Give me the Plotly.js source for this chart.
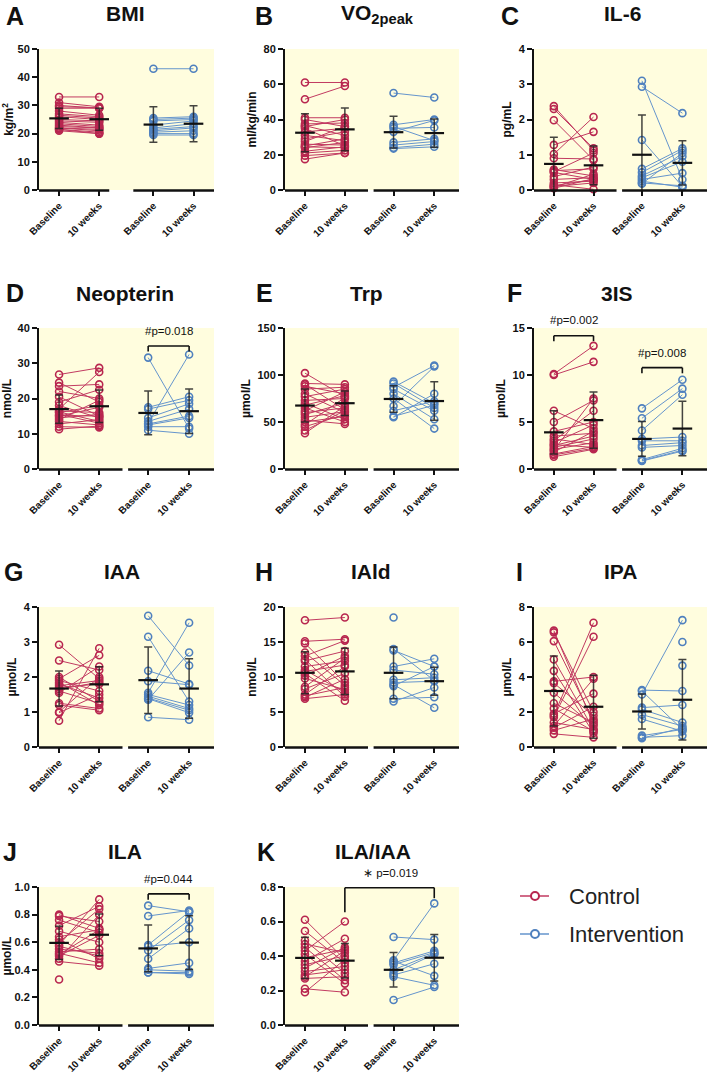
<!DOCTYPE html>
<html>
<head>
<meta charset="utf-8">
<script src="https://cdn.plot.ly/plotly-3.0.1.min.js"></script>
<style>
  html, body { margin: 0; padding: 0; background: #ffffff; }
  #chart { width: 709px; height: 1075px; }
</style>
</head>
<body>
<div id="chart"></div>
<script>
// ---------------- data: paired values per subject (baseline, 10 weeks) ----------------
// Group means and SDs per panel, order: control baseline, control 10 wk, intervention baseline, intervention 10 wk
const groupLabels = ['Control', 'Intervention'];
const timeLabels = ['Baseline', '10 weeks'];

// A: BMI
const bmiCtrlBase = [33, 31, 30, 29.5, 29, 28, 27, 26.5, 26, 25, 24.5, 24, 23.5, 23, 22.5, 22, 22, 21.5, 21, 21.5];
const bmiCtrl10   = [33, 29.5, 29, 29.2, 29, 26.5, 26, 25.5, 25, 24.5, 24, 23, 22.5, 22, 22, 21, 21.5, 20.5, 20, 20];
const bmiIntBase  = [43, 25.5, 25, 24.5, 23, 22, 21.5, 21, 20.5, 20, 19.5];
const bmiInt10    = [43, 26, 25.5, 25, 24.5, 23.5, 22.5, 22, 21, 20, 19.5];
const bmiMean = [25.4, 25.1, 23.2, 23.5];
const bmiSD   = [3.6, 3.9, 6.3, 6.4];

// B: VO2peak
const vo2CtrlBase = [61, 51.5, 41, 40, 37.5, 36.5, 36, 35, 33, 31, 29, 27.5, 26, 25, 24.5, 24, 22, 21, 19.5, 17.5];
const vo2Ctrl10   = [61, 59, 41, 36, 38, 31, 40, 25, 35, 28, 33, 36, 25.5, 29, 24, 27, 24.5, 22.5, 21, 21];
const vo2IntBase  = [55, 37, 36, 35, 33, 27, 25.5, 24, 23.5];
const vo2Int10    = [52.5, 40, 28, 35.5, 39.5, 29, 27.5, 26, 24.5];
const vo2Mean = [32.5, 34.4, 32.8, 32.3];
const vo2SD   = [10.8, 12.1, 9.0, 8.0];

// C: IL-6
const il6CtrlBase = [2.38, 2.3, 1.98, 1.28, 1.02, 0.9, 0.58, 0.55, 0.52, 0.5, 0.38, 0.3, 0.2, 0.15, 0.12, 0.1, 0.08, 0.05];
const il6Ctrl10   = [1.12, 1.18, 0.85, 1.65, 2.07, 0.88, 0.4, 0.6, 1.05, 0.3, 0.65, 0.35, 0.25, 0.02, 0.3, 0.2, 0.45, 0.32];
const il6IntBase  = [3.1, 2.93, 1.42, 0.6, 0.5, 0.4, 0.35, 0.3, 0.25, 0.2, 0.18];
const il6Int10    = [0.3, 2.18, 0.1, 1.18, 1.12, 0.95, 0.8, 0.48, 0.08, 0.12, 1.05];
const il6Mean = [0.74, 0.70, 1.00, 0.77];
const il6SD   = [0.76, 0.55, 1.13, 0.63];

// D: Neopterin
const neoCtrlBase = [26.8, 24.5, 23.5, 22, 20.5, 19, 18, 17, 16.5, 16, 15.5, 15, 14.5, 14, 13.5, 12.8, 12, 11.3, 16.2, 15.2];
const neoCtrl10   = [28.7, 19, 24, 20, 15, 22.5, 14.5, 27.5, 16, 18, 13, 17.5, 15.5, 19.5, 12.5, 14, 11.8, 12.2, 13.5, 15];
const neoIntBase  = [31.6, 17.5, 17, 14.5, 13.5, 13, 12.8, 12.5, 12, 11];
const neoInt10    = [11.5, 20.5, 19.5, 18.5, 17, 32.5, 15, 14.5, 12, 10];
const neoMean = [17.0, 17.8, 15.9, 16.4];
const neoSD   = [4.0, 4.6, 6.2, 6.3];

// E: Trp
const trpCtrlBase = [102, 91, 90, 88, 85, 80, 77, 73, 70, 68, 65, 62, 60, 58, 55, 52, 50, 47, 45, 41, 38];
const trpCtrl10   = [77, 90, 63, 80, 87, 60, 85, 75, 53, 78, 50, 82, 65, 70, 61, 48, 56, 76, 58, 62, 67];
const trpIntBase  = [93, 91, 87, 85, 80, 75, 67, 62, 56, 55];
const trpInt10    = [70, 65, 110, 62, 53, 43, 109, 72, 68, 80];
const trpMean = [67.5, 70.0, 74.5, 72.3];
const trpSD   = [17.5, 13.0, 14.0, 20.5];

// F: 3IS
const isCtrlBase = [10.1, 10.0, 6.2, 5.0, 4.0, 3.5, 3.2, 3.0, 2.8, 2.5, 2.3, 2.1, 2.0, 1.8, 1.6, 1.5, 1.3, 2.6];
const isCtrl10   = [13.1, 11.4, 4.3, 7.3, 5.0, 3.8, 2.6, 6.2, 4.7, 3.5, 3.2, 2.8, 7.5, 4.0, 2.4, 2.2, 2.1, 2.3];
const isIntBase  = [6.45, 5.4, 4.1, 3.2, 3.0, 2.5, 2.3, 1.0, 0.9, 0.85];
const isInt10    = [9.5, 8.55, 7.9, 3.4, 3.0, 2.8, 2.5, 2.2, 2.0, 1.9];
const isMean = [3.9, 5.2, 3.2, 4.3];
const isSD   = [2.3, 3.0, 1.85, 2.9];

// G: IAA
const iaaCtrlBase = [2.92, 2.47, 2.0, 1.95, 1.9, 1.85, 1.8, 1.75, 1.6, 1.55, 1.25, 1.2, 1.0, 0.98, 0.75, 1.7, 1.65];
const iaaCtrl10   = [1.95, 2.2, 1.3, 2.62, 1.6, 1.2, 1.4, 1.9, 1.25, 2.3, 1.1, 1.05, 2.0, 1.5, 2.82, 1.8, 1.85];
const iaaIntBase  = [3.75, 3.15, 2.18, 1.88, 1.55, 1.5, 1.45, 1.4, 1.38, 1.35, 0.85];
const iaaInt10    = [2.33, 1.3, 1.8, 1.78, 3.55, 1.2, 1.1, 1.05, 0.98, 2.7, 0.78];
const iaaMean = [1.67, 1.79, 1.91, 1.67];
const iaaSD   = [0.50, 0.50, 0.95, 0.85];

// H: IAld
const ialdCtrlBase = [18.1, 15.1, 14.8, 13.5, 13, 12.5, 12.3, 11.5, 11, 10.8, 10.5, 10.2, 9.8, 8.6, 8.3, 7.5, 7.3, 7.1, 6.9];
const ialdCtrl10   = [18.5, 15.4, 9.2, 8.8, 15.2, 7.2, 13.7, 12.3, 7.8, 11.7, 6.6, 13, 8.2, 12.7, 10.5, 11.5, 8.5, 9.7, 7.5];
const ialdIntBase  = [18.5, 14.0, 13.8, 11.5, 11.0, 9.6, 8.9, 8.7, 6.9, 6.5, 9.2];
const ialdInt10    = [null, 9.5, 11.5, 12.6, 10.4, 9.9, 5.6, 11.5, 7.1, 8.5, 9.4];
const ialdMean = [10.6, 10.8, 10.6, 9.4];
const ialdSD   = [3.0, 3.3, 3.7, 2.0];

// I: IPA
const ipaCtrlBase = [6.65, 6.55, 6.05, 5.0, 4.35, 3.75, 3.65, 3.1, 2.5, 1.9, 1.8, 1.7, 1.2, 1.1, 0.95, 0.75, 1.4, 2.2];
const ipaCtrl10   = [1.3, 2.0, 1.5, 1.0, 0.8, 4.0, 1.8, 1.2, 1.4, 3.05, 7.1, 6.3, 3.9, 2.3, 1.6, 0.55, 1.0, 0.9];
const ipaIntBase  = [3.25, 3.2, 3.0, 2.25, 2.15, 1.85, 1.6, 0.65, 0.55, 0.5, null, null];
const ipaInt10    = [3.2, 1.0, 7.25, 2.4, 1.4, 1.2, 0.9, 1.0, 0.65, 1.1, 6.0, 4.65];
const ipaMean = [3.2, 2.3, 2.03, 2.7];
const ipaSD   = [2.0, 1.8, 1.0, 2.3];

// J: ILA
const ilaCtrlBase = [0.80, 0.79, 0.76, 0.72, 0.68, 0.64, 0.62, 0.60, 0.58, 0.55, 0.53, 0.52, 0.50, 0.48, 0.46, 0.33, 0.57, 0.51];
const ilaCtrl10   = [0.70, 0.75, 0.67, 0.86, 0.60, 0.69, 0.48, 0.84, 0.91, 0.52, 0.55, 0.45, 0.65, 0.80, 0.43, null, 0.50, 0.69];
const ilaIntBase  = [0.865, 0.79, 0.58, 0.57, 0.54, 0.48, 0.41, 0.40, 0.38, 0.38];
const ilaInt10    = [0.82, 0.83, 0.82, 0.60, 0.76, 0.70, 0.45, 0.39, 0.38, 0.37];
const ilaMean = [0.595, 0.654, 0.555, 0.597];
const ilaSD   = [0.12, 0.15, 0.17, 0.195];

// K: ILA/IAA
const ratioCtrlBase = [0.61, 0.545, 0.49, 0.47, 0.45, 0.43, 0.41, 0.39, 0.37, 0.35, 0.33, 0.31, 0.29, 0.28, 0.27, 0.21, 0.19];
const ratioCtrl10   = [0.38, 0.36, 0.30, 0.42, 0.26, 0.60, 0.24, 0.44, 0.50, 0.40, 0.45, 0.34, 0.32, 0.43, 0.28, 0.19, 0.38];
const ratioIntBase  = [0.51, 0.375, 0.37, 0.36, 0.35, 0.32, 0.30, 0.29, 0.28, 0.145];
const ratioInt10    = [0.495, 0.705, 0.285, 0.43, 0.42, 0.415, 0.41, 0.355, 0.23, 0.22];
const ratioMean = [0.389, 0.373, 0.32, 0.39];
const ratioSD   = [0.12, 0.10, 0.10, 0.135];

// Panel labels, titles and units
const panelLetters = ['A', 'B', 'C', 'D', 'E', 'F', 'G', 'H', 'I', 'J', 'K'];
const panelTitles = ['BMI', 'VO<sub>2peak</sub>', 'IL-6', 'Neopterin', 'Trp', '3IS', 'IAA', 'IAld', 'IPA', 'ILA', 'ILA/IAA'];
const unitLabels = ['kg/m<sup>2</sup>', 'ml/kg/min', 'pg/mL', 'nmol/L', 'µmol/L', 'µmol/L', 'µmol/L', 'nmol/L', 'µmol/L', 'µmol/L', null];
const yMaxima = [50, 80, 4, 40, 150, 15, 4, 20, 8, 1.0, 0.8];
const yTickSteps = [10, 20, 1, 10, 50, 5, 1, 5, 2, 0.2, 0.2];

// Significance labels
const pLabels = ['#p=0.018', '#p=0.002', '#p=0.008', '#p=0.044', '\u2217 p=0.019'];

// ---------------- figure construction ----------------
const panelData = [
  [bmiCtrlBase, bmiCtrl10, bmiIntBase, bmiInt10, bmiMean, bmiSD],
  [vo2CtrlBase, vo2Ctrl10, vo2IntBase, vo2Int10, vo2Mean, vo2SD],
  [il6CtrlBase, il6Ctrl10, il6IntBase, il6Int10, il6Mean, il6SD],
  [neoCtrlBase, neoCtrl10, neoIntBase, neoInt10, neoMean, neoSD],
  [trpCtrlBase, trpCtrl10, trpIntBase, trpInt10, trpMean, trpSD],
  [isCtrlBase, isCtrl10, isIntBase, isInt10, isMean, isSD],
  [iaaCtrlBase, iaaCtrl10, iaaIntBase, iaaInt10, iaaMean, iaaSD],
  [ialdCtrlBase, ialdCtrl10, ialdIntBase, ialdInt10, ialdMean, ialdSD],
  [ipaCtrlBase, ipaCtrl10, ipaIntBase, ipaInt10, ipaMean, ipaSD],
  [ilaCtrlBase, ilaCtrl10, ilaIntBase, ilaInt10, ilaMean, ilaSD],
  [ratioCtrlBase, ratioCtrl10, ratioIntBase, ratioInt10, ratioMean, ratioSD]
];

const W = 709, H = 1075;
const FONT = 'Liberation Sans, Arial, Helvetica, sans-serif';
const CTRL_MARK = '#B8264F', CTRL_LINE = '#C23A61';
const INT_MARK = '#4F80BE', INT_LINE = '#6595CD';

// subplot pixel boxes
const colPx = [[39, 214], [285, 459], [534, 707]];
const rowPx = [[49, 190], [328, 469], [607, 747], [887, 1025]];
const titleYpx = [14, 293, 571, 851];
const letterYpx = [16, 293, 572, 852];
const titleXpx = [125, 378, 622, 125, 366, 617, 122, 371, 620, 125, 373];
const letterXpx = [15, 264, 510, 15, 264, 514, 13, 264, 519, 10, 266];

const xRange = [-0.5, 3.86];
const posDefault = [0, 1, 2.22, 3.24];
const posWide = [0, 1, 2.35, 3.35];

const traces = [];
const layout = {
  width: W, height: H,
  margin: { l: 0, r: 0, t: 0, b: 0 },
  paper_bgcolor: '#ffffff',
  plot_bgcolor: '#FFFDDE',
  showlegend: false,
  font: { family: FONT, color: '#111' },
  shapes: [],
  annotations: []
};

function px2x(p) { return p / W; }
function py2y(p) { return 1 - p / H; }
// data -> paper helpers for panel i
function panelX(i, v) {
  const c = colPx[i % 3];
  return px2x(c[0] + (v - xRange[0]) / (xRange[1] - xRange[0]) * (c[1] - c[0]));
}
function panelY(i, v) {
  const r = rowPx[Math.floor(i / 3)];
  return py2y(r[1] - v / yMaxima[i] * (r[1] - r[0]));
}

panelData.forEach((d, i) => {
  const [cb, c10, ib, i10, means, sds] = d;
  const row = Math.floor(i / 3), col = i % 3;
  const n = i + 1;
  const xa = n === 1 ? 'x' : 'x' + n;
  const ya = n === 1 ? 'y' : 'y' + n;
  const pos = i === 0 ? posWide : posDefault;

  const xDom = [px2x(colPx[col][0]), px2x(colPx[col][1])];
  const yDom = [py2y(rowPx[row][1]), py2y(rowPx[row][0])];

  // paired subject lines
  function pairs(base, wk, x0, x1) {
    const xs = [], ys = [];
    for (let k = 0; k < Math.max(base.length, wk.length); k++) {
      xs.push(x0, x1, null);
      ys.push(base[k] == null ? null : base[k], wk[k] == null ? null : wk[k], null);
    }
    return { xs, ys };
  }
  const cp = pairs(cb, c10, pos[0], pos[1]);
  const ip = pairs(ib, i10, pos[2], pos[3]);
  traces.push({
    type: 'scatter', mode: 'lines+markers', name: groupLabels[0],
    x: cp.xs, y: cp.ys, xaxis: xa, yaxis: ya, cliponaxis: false,
    line: { color: CTRL_LINE, width: 1 },
    marker: { symbol: 'circle-open', size: 7, color: CTRL_MARK, line: { width: 1.6, color: CTRL_MARK } },
    hoverinfo: 'y'
  });
  traces.push({
    type: 'scatter', mode: 'lines+markers', name: groupLabels[1],
    x: ip.xs, y: ip.ys, xaxis: xa, yaxis: ya, cliponaxis: false,
    line: { color: INT_LINE, width: 1 },
    marker: { symbol: 'circle-open', size: 7, color: INT_MARK, line: { width: 1.6, color: INT_MARK } },
    hoverinfo: 'y'
  });
  // mean with SD error bars
  traces.push({
    type: 'scatter', mode: 'markers', name: 'mean ± SD',
    x: pos, y: means, xaxis: xa, yaxis: ya, cliponaxis: false,
    marker: { symbol: 'line-ew', size: 14, color: '#111', line: { width: 2.2, color: '#111' } },
    error_y: { type: 'data', array: sds, visible: true, color: 'rgba(35,35,35,0.85)', thickness: 1.5, width: 4 },
    hoverinfo: 'y'
  });

  const xKey = n === 1 ? 'xaxis' : 'xaxis' + n;
  const yKey = n === 1 ? 'yaxis' : 'yaxis' + n;
  layout[xKey] = {
    domain: xDom, anchor: ya, range: xRange, fixedrange: true,
    showline: false, showgrid: false, zeroline: false,
    tickmode: 'array', tickvals: pos, ticktext: [timeLabels[0], timeLabels[1], timeLabels[0], timeLabels[1]],
    ticks: 'outside', ticklen: 5, tickwidth: 2, tickcolor: '#111',
    tickangle: -45,
    tickfont: { family: FONT, size: 10, color: '#111', weight: 'bold' }
  };
  const yMax = yMaxima[i];
  const step = yTickSteps[i];
  const tv = [];
  for (let v = 0; v <= yMax + 1e-9; v += step) tv.push(Math.round(v * 1000) / 1000);
  layout[yKey] = {
    domain: yDom, anchor: xa, range: [0, yMax], fixedrange: true,
    showline: true, linewidth: 2, linecolor: '#111',
    showgrid: false, zeroline: false,
    tickmode: 'array', tickvals: tv,
    ticktext: tv.map(v => step < 1 ? v.toFixed(1) : String(v)),
    ticks: 'outside', ticklen: 5, tickwidth: 2, tickcolor: '#111',
    tickfont: { family: FONT, size: 11, color: '#111', weight: 'bold' }
  };
  if (unitLabels[i]) {
    layout[yKey].title = { text: unitLabels[i], font: { family: FONT, size: 12, color: '#111', weight: 'bold' }, standoff: 4 };
  }

  // broken x-axis baseline: one segment per group
  const segs = i === 0 ? [[-0.5, 1.25], [1.85, xRange[1]]] : [[-0.5, 1.58], [1.72, xRange[1]]];
  segs.forEach(s => {
    layout.shapes.push({
      type: 'line', xref: 'paper', yref: 'paper',
      x0: panelX(i, s[0]), x1: panelX(i, s[1]),
      y0: py2y(rowPx[row][1] + 0.5), y1: py2y(rowPx[row][1] + 0.5),
      line: { color: '#111', width: 2.5 }
    });
  });

  // panel title and letter
  layout.annotations.push({
    xref: 'paper', yref: 'paper', x: px2x(titleXpx[i]), y: py2y(titleYpx[row]),
    xanchor: 'center', yanchor: 'middle', showarrow: false,
    text: panelTitles[i], font: { family: FONT, size: 21, color: '#111', weight: 'bold' }
  });
  layout.annotations.push({
    xref: 'paper', yref: 'paper', x: px2x(letterXpx[i]), y: py2y(letterYpx[row]),
    xanchor: 'center', yanchor: 'middle', showarrow: false,
    text: panelLetters[i], font: { family: FONT, size: 25, color: '#111', weight: 'bold' }
  });
});

// significance brackets, positioned in the data units of panel i
function bracket(i, x0, x1, yTop, yL, yR, label, lx, ly) {
  const ln = { color: '#111', width: 1.6 };
  const X0 = panelX(i, x0), X1 = panelX(i, x1), YT = panelY(i, yTop);
  layout.shapes.push({ type: 'line', xref: 'paper', yref: 'paper', x0: X0, x1: X1, y0: YT, y1: YT, line: ln });
  layout.shapes.push({ type: 'line', xref: 'paper', yref: 'paper', x0: X0, x1: X0, y0: YT, y1: panelY(i, yL), line: ln });
  layout.shapes.push({ type: 'line', xref: 'paper', yref: 'paper', x0: X1, x1: X1, y0: YT, y1: panelY(i, yR), line: ln });
  layout.annotations.push({
    xref: 'paper', yref: 'paper', x: panelX(i, lx), y: panelY(i, ly), xanchor: 'center', yanchor: 'middle', showarrow: false,
    text: label, font: { family: FONT, size: 11.5, color: '#111' }
  });
}
bracket(3, posDefault[2], posDefault[3], 34.9, 33.3, 33.3, pLabels[0], 2.73, 39.2);
bracket(5, posDefault[0], posDefault[1], 14.18, 13.6, 13.6, pLabels[1], 0.5, 15.85);
bracket(5, posDefault[2], posDefault[3], 10.78, 10.18, 10.18, pLabels[2], 2.73, 12.37);
bracket(9, posDefault[2], posDefault[3], 0.95, 0.907, 0.907, pLabels[3], 2.73, 1.06);
bracket(10, posDefault[1], posDefault[3], 0.796, 0.653, 0.735, pLabels[4], 2.15, 0.882);

// legend
[[CTRL_LINE, CTRL_MARK, 896, groupLabels[0]], [INT_LINE, INT_MARK, 934, groupLabels[1]]].forEach(([lc, mc, yy, label]) => {
  layout.shapes.push({
    type: 'line', xref: 'paper', yref: 'paper',
    x0: px2x(520), x1: px2x(549), y0: py2y(yy), y1: py2y(yy),
    line: { color: lc, width: 1.5 }
  });
  layout.shapes.push({
    type: 'circle', xref: 'paper', yref: 'paper',
    x0: px2x(531), x1: px2x(539), y0: py2y(yy + 4), y1: py2y(yy - 4),
    fillcolor: '#ffffff', line: { color: mc, width: 2 }
  });
  layout.annotations.push({
    xref: 'paper', yref: 'paper', x: px2x(567), y: py2y(yy),
    xanchor: 'left', yanchor: 'middle', showarrow: false,
    text: label, font: { family: FONT, size: 22, color: '#222' }
  });
});

Plotly.newPlot('chart', traces, layout, { staticPlot: true, displayModeBar: false });
</script>
</body>
</html>
